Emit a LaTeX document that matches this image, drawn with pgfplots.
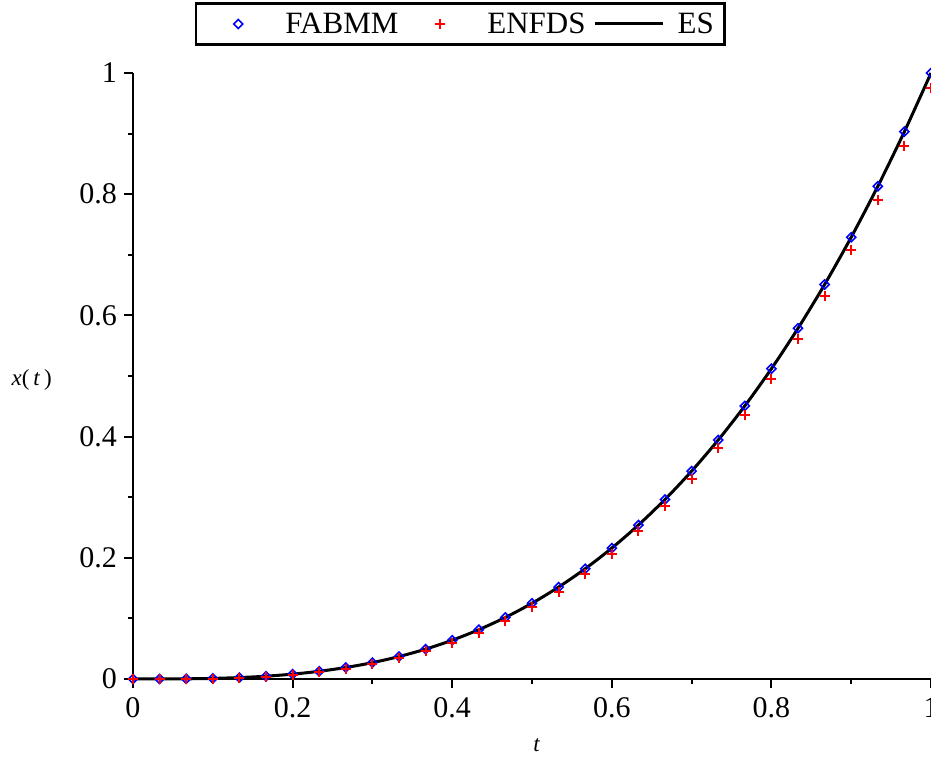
\documentclass[border=0pt]{standalone}
\usepackage{fontspec}
\setmainfont{Liberation Serif}
\usepackage{pgfplots}
\pgfplotsset{compat=1.18}
\pgfplotsset{
  wide marks/.style={legend image code/.code={\path[draw=none,fill=none] (0pt,-5pt) rectangle (68pt,5pt);
    \draw[mark repeat=2,mark phase=2,##1] plot coordinates {(0pt,0pt) (34pt,0pt) (68pt,0pt)};}},
  wide line/.style={legend image code/.code={\draw[##1] (0pt,0pt) -- (68pt,0pt);}},
}

\begin{document}
\begin{tikzpicture}
\begin{axis}[
  at={(0pt,0pt)}, anchor=south west,
  scale only axis, width=798pt, height=606pt,
  xmin=0, xmax=1, ymin=0, ymax=1,
  axis lines=left, axis line style={-, line width=2pt},
  clip=false,
  xtick={0,0.2,0.4,0.6,0.8,1}, ytick={0,0.2,0.4,0.6,0.8,1},
  minor tick num=1,
  tick align=outside,
  major tick length=9pt, minor tick length=5pt,
  every tick/.style={black, line width=2pt},
  /pgf/number format/assume math mode=true,
  tick label style={font=\fontsize{30}{36}\selectfont},
  yticklabel style={inner sep=0pt, xshift=-7pt},
  xticklabel style={inner sep=0pt, yshift=-9pt},
  xlabel={\textit{t}},
  ylabel={\textit{x}(\,\textit{t}\,)},
  xlabel style={font=\fontsize{23}{26}\selectfont, at={(axis description cs:0.506,-0.109)}, anchor=center},
  ylabel style={font=\fontsize{23}{26}\selectfont, rotate=-90, at={(axis description cs:-0.127,0.494)}, anchor=center},
  legend columns=3,
  legend cell align=left,
  legend style={at={(rel axis cs:0.4098,1.0809)}, anchor=center,
    draw=black, line width=2.5pt, inner xsep=8.5pt, inner ysep=7.5pt,
    font=\fontsize{31}{36}\selectfont,
    /tikz/every odd column/.append style={column sep=11pt},
    /tikz/every even column/.append style={column sep=6pt}},
]
% ES (drawn first, below the marks)
\addplot[black, line width=3pt, smooth, forget plot] coordinates {
(0,0) (0.03333,0.000037) (0.06667,0.000296) (0.1,0.001) (0.13333,0.00237)
(0.16667,0.00463) (0.2,0.008) (0.23333,0.012704) (0.26667,0.018963) (0.3,0.027)
(0.33333,0.037037) (0.36667,0.049296) (0.4,0.064) (0.43333,0.08137) (0.46667,0.10163)
(0.5,0.125) (0.53333,0.151704) (0.56667,0.181963) (0.6,0.216) (0.63333,0.254037)
(0.66667,0.296296) (0.7,0.343) (0.73333,0.39437) (0.76667,0.45063) (0.8,0.512)
(0.83333,0.578704) (0.86667,0.650963) (0.9,0.729) (0.93333,0.813037) (0.96667,0.903296)
(1,1)
};
% FABMM
\addplot[only marks, blue, mark=square, mark size=3.2pt, mark options={rotate=45, line width=1.6pt}, wide marks] coordinates {
(0,0) (0.03333,0.000037) (0.06667,0.000296) (0.1,0.001) (0.13333,0.00237)
(0.16667,0.00463) (0.2,0.008) (0.23333,0.012704) (0.26667,0.018963) (0.3,0.027)
(0.33333,0.037037) (0.36667,0.049296) (0.4,0.064) (0.43333,0.08137) (0.46667,0.10163)
(0.5,0.125) (0.53333,0.151704) (0.56667,0.181963) (0.6,0.216) (0.63333,0.254037)
(0.66667,0.296296) (0.7,0.343) (0.73333,0.39437) (0.76667,0.45063) (0.8,0.512)
(0.83333,0.578704) (0.86667,0.650963) (0.9,0.729) (0.93333,0.813037) (0.96667,0.903296)
(1,1)
};
\addlegendentry{FABMM}
% ENFDS
\addplot[only marks, red, mark=+, mark size=5pt, mark options={line width=2pt}, wide marks] coordinates {
(0,0) (0.03333,0.00001) (0.06667,0.00018) (0.1,0.00074) (0.13333,0.00191)
(0.16667,0.00391) (0.2,0.00696) (0.23333,0.01129) (0.26667,0.01711) (0.3,0.02466)
(0.33333,0.03415) (0.36667,0.0458) (0.4,0.05984) (0.43333,0.07649) (0.46667,0.09597)
(0.5,0.1185) (0.53333,0.14431) (0.56667,0.17361) (0.6,0.20664) (0.63333,0.24361)
(0.66667,0.28474) (0.7,0.33026) (0.73333,0.38039) (0.76667,0.43535) (0.8,0.49536)
(0.83333,0.56065) (0.86667,0.63143) (0.9,0.70794) (0.93333,0.79039) (0.96667,0.879)
(1,0.975)
};
\addlegendentry{ENFDS}
\addlegendimage{black, line width=3pt, wide line}
\addlegendentry{ES}
\end{axis}
\pgfresetboundingbox
\path[use as bounding box] (-133pt,-78pt) rectangle (798pt,679pt);
\end{tikzpicture}
\end{document}
